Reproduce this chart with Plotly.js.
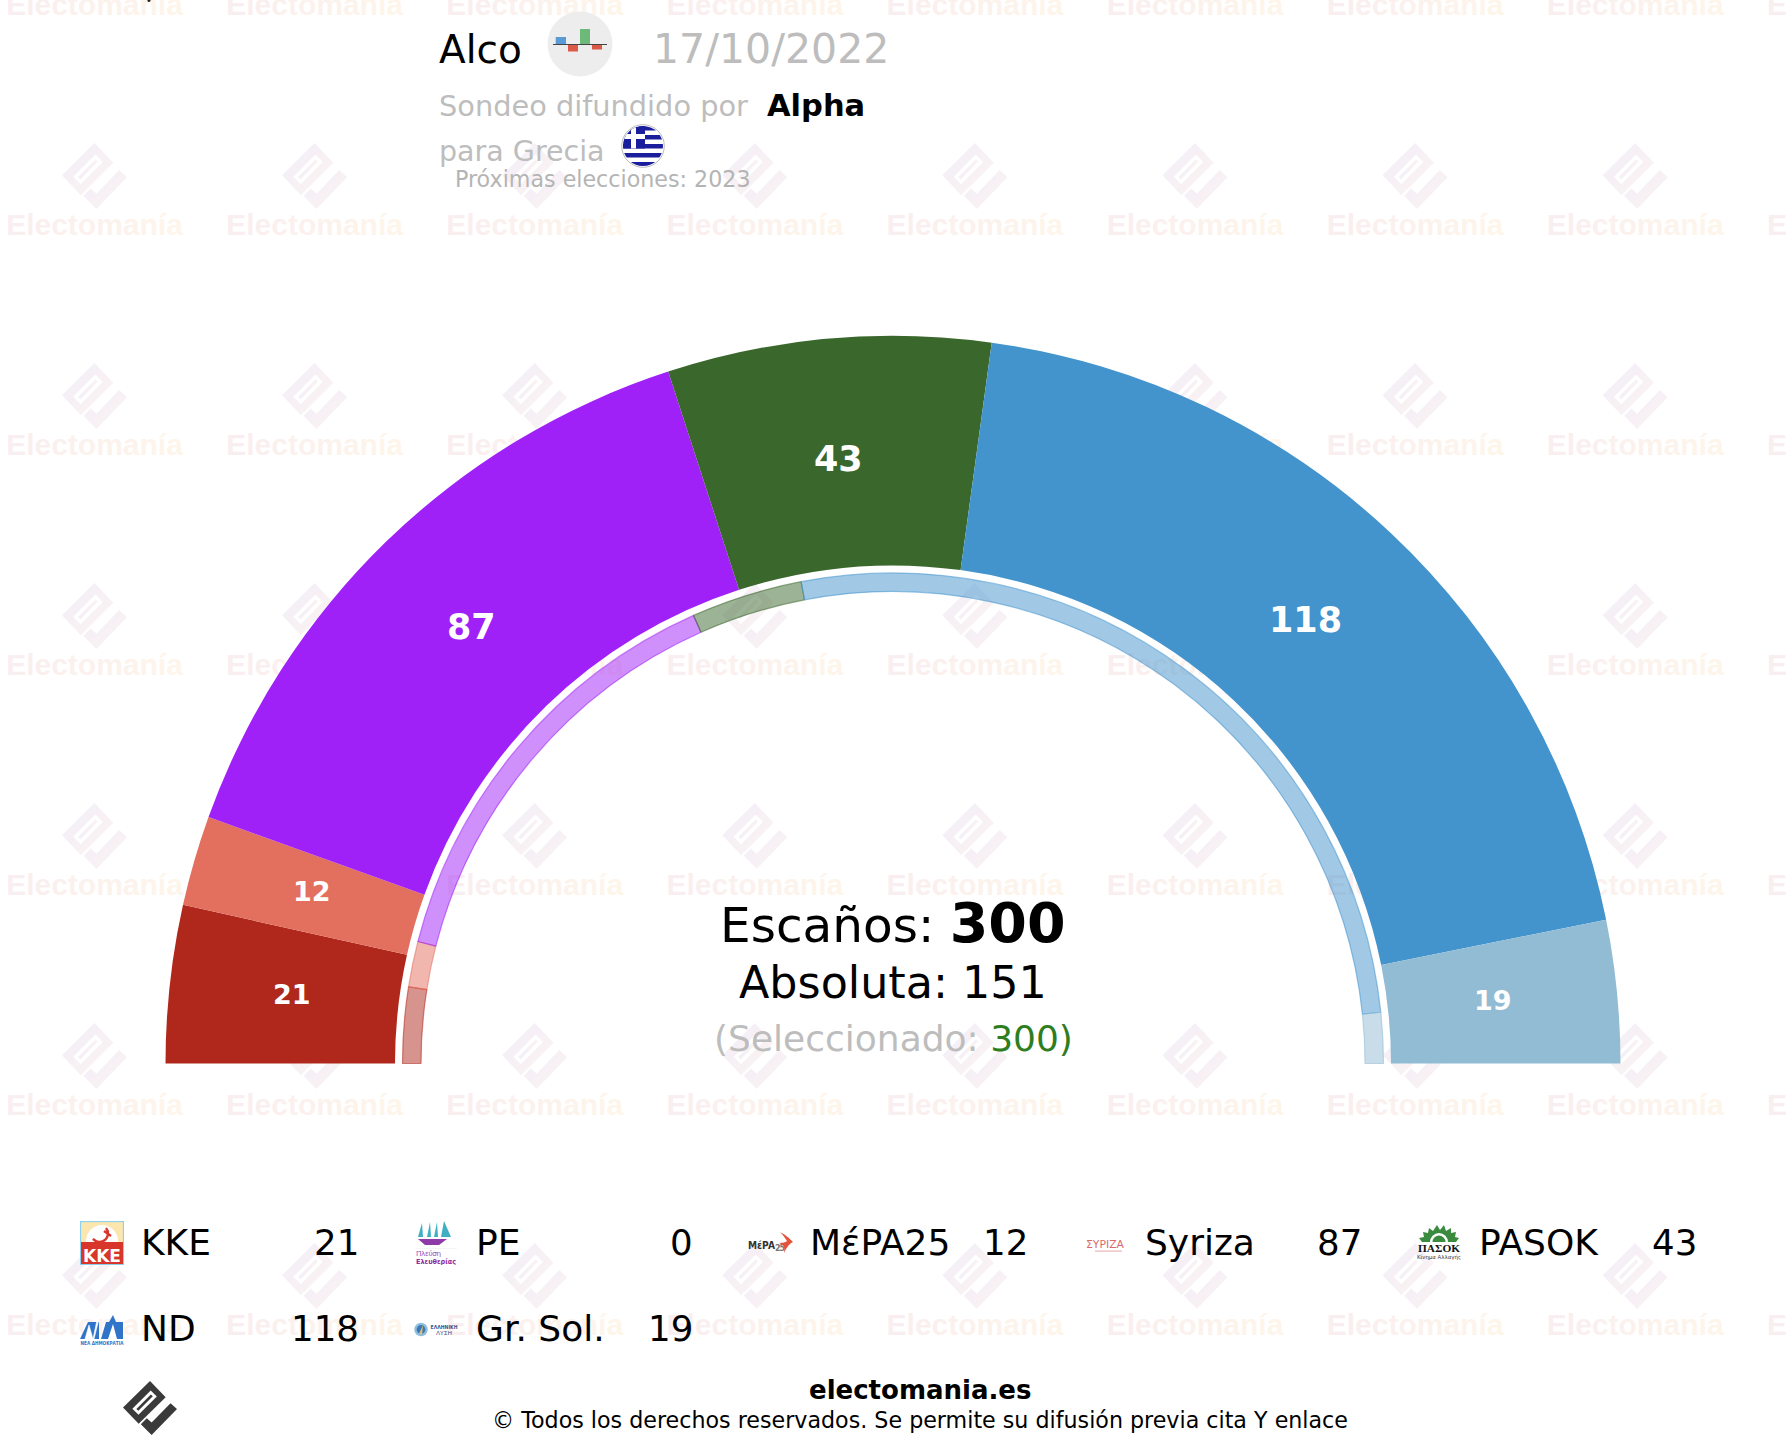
<!DOCTYPE html>
<html><head><meta charset="utf-8">
<script src="https://cdn.plot.ly/plotly-3.0.1.min.js"></script>
<style>html,body{margin:0;padding:0;width:1788px;height:1450px;overflow:hidden;background:#fff}</style>
</head><body><div id="chart"></div>
<script>
// ---- data ----
const parties   = ["KKE","PE","MέPA25","Syriza","PASOK","ND","Gr. Sol."];
const seats     = [21,0,12,87,43,118,19];
const prevSeats = [15,0,9,86,22,158,10];
const colors    = ["#B0281C","#D9534F","#E36F5E","#A021F8","#3A682C","#4393CD","#91BCD4"];
const totalSeats = 300, majority = 151, selected = 300;
const labelSizes = [27,27,27,35,35,35,27];

// ---- canvas (taller than the window: the hidden half of the gauge runs off the page) ----
const W = 1788, H = 1800, cx = 893, cy = 1063.5;
const rOuter = 727.5, rInner = 498, ringOuter = 490.5, ringInner = 472, rLabel = 604;
const font = "DejaVu Sans";
const dom = r => ({x:[(cx-r)/W,(cx+r)/W], y:[1-(cy+r)/H,1-(cy-r)/H]});
const clear = "rgba(0,0,0,0)";
const hexA = (h,a)=>`rgba(${parseInt(h.slice(1,3),16)},${parseInt(h.slice(3,5),16)},${parseInt(h.slice(5,7),16)},${a})`;

// ---- watermark ----
const wmX=[], wmY=[], wmT=[];
for(let r=0;r<7;r++) for(let c=0;c<9;c++){ wmX.push(94.5+220.1*c); wmY.push(7+220*r); wmT.push("Electomanía"); }
const logoMain = "M50 0L79 30L29 79L0 49Z";
const logoTail = "M88 41L100 52L53 100L33 80L44 69L53 77Z";
function logoSvg(fill){
  return `<path d="${logoMain}" fill="${fill}"/><path d="${logoTail}" fill="${fill}"/>`+
   `<g transform="rotate(-45 40 40)"><rect x="16" y="32" width="48" height="16" fill="#fff"/><rect x="21" y="37.5" width="38" height="5" fill="${fill}"/></g>`;
}
let wmSvg = `<svg xmlns="http://www.w3.org/2000/svg" width="${W}" height="1450" viewBox="0 0 ${W} 1450"><defs><linearGradient id="g" x1="0" y1="0" x2="1" y2="1"><stop offset="0" stop-color="#F1EDFA"/><stop offset="1" stop-color="#FDF4F0"/></linearGradient></defs>`;
for(let r=0;r<6;r++) for(let c=0;c<9;c++){
  wmSvg += `<g transform="translate(${62+220.1*c} ${143+220*r}) scale(.65 .66)">${logoSvg("url(#g)")}</g>`;
}
wmSvg += "</svg>";

// ---- small pictures ----
const uri = s => "data:image/svg+xml;charset=utf-8,"+encodeURIComponent(s);
function img(x,y,w,h,inner,vb,layer){
  const s = `<svg xmlns="http://www.w3.org/2000/svg" width="${w*3}" height="${h*3}" viewBox="${vb||`0 0 ${w} ${h}`}" preserveAspectRatio="none" font-family="DejaVu Sans">${inner}</svg>`;
  return {source:uri(s),xref:"paper",yref:"paper",x:x/W,y:1-y/H,sizex:w/W,sizey:h/H,xanchor:"left",yanchor:"top",sizing:"stretch",layer:layer||"above"};
}
const pics = [
 {source:uri(wmSvg),xref:"paper",yref:"paper",x:0,y:1,sizex:1,sizey:1450/H,xanchor:"left",yanchor:"top",sizing:"stretch",layer:"below"},
 // poll icon
 img(547,11,66,66,`<circle cx="33" cy="33" r="32.5" fill="#EEEDEE"/><rect x="8.7" y="26" width="10.3" height="7.3" fill="#5B9BD5"/><rect x="21" y="33.5" width="10" height="7" fill="#DC5A45"/><rect x="33" y="18" width="10" height="15.3" fill="#6DB97A"/><rect x="45" y="33.5" width="10" height="5" fill="#DC5A45"/><rect x="6" y="33" width="54" height="1" fill="#444"/>`),
 // flag
 img(621,124,44,44,`<defs><clipPath id="c"><circle cx="22" cy="22" r="20"/></clipPath></defs><circle cx="22" cy="22" r="21.3" fill="#fff" stroke="#bbb" stroke-width="1"/><g clip-path="url(#c)"><rect width="44" height="44" fill="#fff"/><rect y="2" width="44" height="4.5" fill="#1A1E9C"/><rect y="11" width="44" height="4.5" fill="#1A1E9C"/><rect y="20" width="44" height="4.5" fill="#1A1E9C"/><rect y="29" width="44" height="4.5" fill="#1A1E9C"/><rect y="38" width="44" height="4.5" fill="#1A1E9C"/><rect x="0" y="0" width="24" height="24.5" fill="#1A1E9C"/><rect x="10" y="0" width="5" height="24.5" fill="#fff"/><rect x="0" y="10" width="24" height="5" fill="#fff"/></g>`),
 // KKE
 img(80,1221,44,44,`<rect x=".5" y=".5" width="43" height="43" fill="#FBE6B0" stroke="#8CCFEF" stroke-width="1.2"/><circle cx="22" cy="20" r="16" fill="#fff"/><path d="M26 7A8.5 8.5 0 1 1 13 18L17 21L14 24M24 10L31 15" fill="none" stroke="#D8362A" stroke-width="2.4"/><rect x="1" y="21" width="42" height="22" fill="#D8362A"/><text x="22" y="41" font-size="18.5" font-weight="700" fill="#fff" text-anchor="middle" textLength="38" lengthAdjust="spacingAndGlyphs">KKE</text>`),
 // PE
 img(415,1221,42,44,`<path d="M3 16L7 2L8 16ZM12 16L15 1L16 16ZM19 16L22 1L23 16ZM26 16L29 0L36 16Z" fill="#3FAFC3"/><path d="M3 18H32L24 24H10Z" fill="#8E3BA8"/><rect x="0" y="27" width="42" height=".6" fill="#eee"/><text x="1" y="35" font-size="7.3" fill="#9A4FB5" textLength="25">Πλεύση</text><text x="1" y="42.5" font-size="7.5" font-weight="700" fill="#8E2C9E" textLength="40" lengthAdjust="spacingAndGlyphs">Ελευθερίας</text>`),
 // MeRA25
 img(748,1232,45,22,`<text x="0" y="17" font-size="10.5" font-weight="700" fill="#333" textLength="27" lengthAdjust="spacingAndGlyphs">MέPA</text><text x="27" y="19" font-size="8" font-weight="700" fill="#777" textLength="10">25</text><path d="M32 0C38 3 41 6 45 10C41 12 39 15 36 21C37 15 36 13 31 11C35 11 38 10 39 9C37 6 35 3 32 0Z" fill="#E5533D"/>`),
 // Syriza
 img(1086,1237,38,17,`<text x="0" y="10.5" font-size="11" fill="#DB6A70" textLength="38" lengthAdjust="spacingAndGlyphs">ΣΥΡΙΖΑ</text><rect x="9" y="13.5" width="27" height="1.2" fill="#EBB5B8"/>`),
 // PASOK
 img(1416,1224,46,37,`<path d="M6 18L3 14L8 13L7 8L12 9L13 4L17 7L21 1L24 6L28 1L30 7L35 4L35 9L40 8L39 13L43 14L40 18Z" fill="#3A8B3F"/><path d="M14 18A9 9 0 0 1 32 18Z" fill="#fff"/><path d="M16.5 18A6.5 6.5 0 0 1 29.5 18Z" fill="#3A8B3F"/><text x="23" y="27.5" font-size="9.5" font-family="Liberation Serif" font-weight="700" fill="#111" text-anchor="middle" textLength="42" lengthAdjust="spacingAndGlyphs">ΠΑΣΟΚ</text><text x="23" y="35" font-size="5.4" fill="#333" text-anchor="middle" textLength="44" lengthAdjust="spacingAndGlyphs">Κίνημα Αλλαγής</text>`),
 // ND
 img(80,1315,44,30,`<path d="M0 24L8 7H19V24Z" fill="#2F74C8"/><path d="M5 24L9 10L13 24L18 0L20 0L14 24" fill="#fff" stroke="#fff" stroke-width=".6"/><path d="M21 24L26 7H29L33 0L36 7H43V24Z" fill="#2F74C8"/><path d="M28 24L33 9L37 24Z" fill="#fff"/><text x="22" y="29.5" font-size="4.6" font-weight="700" fill="#2F74C8" text-anchor="middle" textLength="43" lengthAdjust="spacingAndGlyphs">ΝΕΑ ΔΗΜΟΚΡΑΤΙΑ</text>`),
 // Greek Solution
 img(414,1322,44,15,`<circle cx="7" cy="7.5" r="6.8" fill="#8FBFE0"/><circle cx="7" cy="7.5" r="4.4" fill="#3E78B5"/><path d="M5 12L9 3L8 12Z" fill="#E8C46A"/><text x="30" y="6.5" font-size="4.8" font-weight="700" fill="#33558F" text-anchor="middle" textLength="27" lengthAdjust="spacingAndGlyphs">ΕΛΛΗΝΙΚΗ</text><text x="30" y="13" font-size="4.8" fill="#33558F" text-anchor="middle" textLength="16" lengthAdjust="spacingAndGlyphs">ΛΥΣΗ</text>`),
 // footer mark
 img(123,1381,54,54,logoSvg("#3A3A3A"),"0 0 100 100")
];

// ---- text ----
const A = (x,y,t,size,color,anchor)=>({xref:"x",yref:"y",x,y,text:t,showarrow:false,borderpad:0,borderwidth:0,
  xanchor:anchor||"left",yanchor:"middle",font:{family:font,size,color:color||"#000"}});
const grey="#BDBDBD", green="#2E7D1E";
const ann = [
 A(439,49,"Alco",39),
 A(653,49,"17/10/2022",41,grey),
 A(439,106,"Sondeo difundido por",28.8,grey),
 A(767,105,"<b>Alpha</b>",30.5),
 A(439,151,"para Grecia",28.5,grey),
 A(455,179,"Próximas elecciones: "+2023,22.2,"#B4B4B4"),
 A(893,922,`Escaños: <b style="font-size:55.5px">${totalSeats}</b>`,48.5,"#000","center"),
 A(893,982,`Absoluta: ${majority}`,44.4,"#000","center"),
 A(893,1038,`(Seleccionado: <span style="color:${green}">${selected})</span>`,36,grey,"center"),
 A(920,1390,"<b>electomania.es</b>",26,"#000","center"),
 A(920,1420,"© Todos los derechos reservados. Se permite su difusión previa cita Y enlace",22.2,"#000","center")
];
parties.forEach((p,i)=>{
  const row = i<5?0:1, col = i<5?i:i-5, y = row?1328.5:1242;
  ann.push(A(141+334.5*col,y,p,36));
  ann.push(A(358.5+334.5*col,y,String(seats[i]),35.6,"#000","right"));
});
let cum = 0;
seats.forEach((v,i)=>{
  if(v){
    const a = (cum+v/2)/totalSeats*Math.PI;
    ann.push(A(cx-rLabel*Math.cos(a)-1,cy-rLabel*Math.sin(a)-3,`<b>${v}</b>`,labelSizes[i],"#fff","center"));
  }
  cum += v;
});

const hiddenLabel="(hidden half)";
const traces = [
 {type:"scatter",mode:"text",x:wmX,y:wmY,text:wmT,cliponaxis:true,hoverinfo:"skip",showlegend:false,
  textposition:"middle center",textfont:{family:"Liberation Sans",size:30,color:"#FAF1F2",weight:700}},
 {type:"pie",labels:[...parties,hiddenLabel],values:[...seats,totalSeats],sort:false,direction:"clockwise",rotation:-90,
  hole:rInner/rOuter,domain:dom(rOuter),showlegend:false,hoverinfo:"skip",textinfo:"none",
  marker:{colors:[...colors,clear],line:{width:0,color:clear}}},
 {type:"pie",labels:[...parties,hiddenLabel],values:[...prevSeats,totalSeats],sort:false,direction:"clockwise",rotation:-90,
  hole:ringInner/ringOuter,domain:dom(ringOuter),showlegend:false,hoverinfo:"skip",textinfo:"none",
  marker:{colors:[...colors.map(c=>hexA(c,.5)),clear],line:{width:1.2,color:[...colors.map(c=>hexA(c,.55)),clear]}}}
];
const layout = {width:W,height:H,margin:{l:0,r:0,t:0,b:0,pad:0},paper_bgcolor:"#fff",plot_bgcolor:clear,showlegend:false,
 xaxis:{range:[0,W],visible:false,fixedrange:true},yaxis:{range:[H,0],visible:false,fixedrange:true},
 images:pics,annotations:ann,
 shapes:[{type:"circle",xref:"x",yref:"y",x0:147.5,x1:150.5,y0:-1,y1:2,fillcolor:"#222",line:{width:0},layer:"above"}]};
Plotly.newPlot("chart",traces,layout,{staticPlot:true,displayModeBar:false}).then(gd=>{
  const NS="http://www.w3.org/2000/svg", svg=gd.querySelector(".main-svg"), defs=svg.querySelector("defs");
  const g=document.createElementNS(NS,"linearGradient"); g.setAttribute("id","wmText");
  [["0","#F9EEF0"],["1","#FEF5EA"]].forEach(([o,c])=>{const s=document.createElementNS(NS,"stop");s.setAttribute("offset",o);s.setAttribute("stop-color",c);g.appendChild(s);});
  defs.appendChild(g);
  gd.querySelectorAll(".textpoint text").forEach(t=>{t.style.fill="url(#wmText)";});
});
</script></body></html>
